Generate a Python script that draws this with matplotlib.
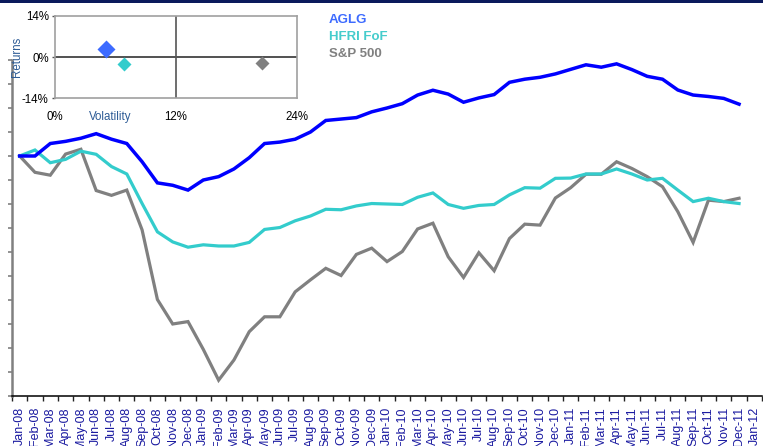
import matplotlib
matplotlib.use("Agg")
import matplotlib.pyplot as plt
from matplotlib.patches import Rectangle
from matplotlib.ticker import FixedLocator, NullFormatter

plt.rcParams['font.family'] = ['Liberation Sans', 'DejaVu Sans']

# Month labels, Jan-08 .. Jan-12
months = ['Jan', 'Feb', 'Mar', 'Apr', 'May', 'Jun', 'Jul', 'Aug', 'Sep', 'Oct', 'Nov', 'Dec']
month_labels = [f"{m}-{y:02d}" for y in range(8, 12) for m in months] + ['Jan-12']

# Growth of 100 invested at Jan-08 (monthly, through Dec-11)
aglg = [100.0, 100.0, 102.6, 103.05, 103.7, 104.65, 103.5, 102.6, 98.8, 94.4, 93.9, 92.9,
        95.0, 95.7, 97.3, 99.65, 102.6, 102.9, 103.5, 105.0, 107.4, 107.7, 108.0, 109.2,
        110.0, 110.9, 112.7, 113.7, 112.9, 111.2, 112.1, 112.8, 115.35, 116.0, 116.4, 117.1,
        118.05, 119.0, 118.5, 119.2, 118.0, 116.6, 116.0, 113.75, 112.7, 112.4, 112.0, 110.8]
hfri = [100.0, 101.25, 98.6, 99.3, 101.0, 100.35, 97.8, 96.25, 90.1, 84.2, 82.1, 81.0,
        81.5, 81.25, 81.25, 82.0, 84.7, 85.1, 86.5, 87.5, 88.9, 88.8, 89.6, 90.1,
        90.0, 89.9, 91.4, 92.3, 89.9, 89.1, 89.7, 89.9, 91.9, 93.4, 93.3, 95.35,
        95.4, 96.25, 96.25, 97.3, 96.25, 95.0, 95.35, 92.9, 90.5, 91.2, 90.5, 90.1]
sp500 = [100.0, 96.6, 96.0, 100.4, 101.4, 92.8, 91.8, 92.9, 84.6, 70.1, 65.0, 65.5,
         59.7, 53.3, 57.5, 63.4, 66.5, 66.5, 71.7, 74.2, 76.6, 75.1, 79.5, 80.8,
         78.0, 80.1, 84.8, 86.0, 79.0, 74.7, 79.85, 76.1, 82.8, 85.8, 85.6, 91.25,
         93.4, 96.2, 96.2, 98.8, 97.4, 95.7, 93.6, 88.4, 82.0, 90.8, 90.5, 91.2]

# Risk / return summary (%)
names = ['AGLG', 'HFRI FoF', 'S&P 500']
volatility = [5.1, 6.9, 20.6]
returns = [2.7, -2.4, -2.0]

c_aglg_line = '#0000FF'
c_aglg = '#3D6BFF'
c_hfri = '#33CCCC'
c_sp = '#808080'

W, H = 763, 446
fig = plt.figure(figsize=(W / 100, H / 100), dpi=100)
fig.patch.set_facecolor('white')

# Thin navy band across the top
fig.patches.append(Rectangle((0, 1 - 3 / H), 1, 3 / H, transform=fig.transFigure,
                             facecolor='#0B1A5C', edgecolor='none', zorder=0))

# ---- main chart ----
ax = fig.add_axes([12 / W, 1 - 396 / H, 750 / W, 336 / H])
x = list(range(len(aglg)))
ax.plot(x, sp500, color=c_sp, lw=2.3, solid_joinstyle='miter', zorder=2)
ax.plot(x, hfri, color=c_hfri, lw=2.3, solid_joinstyle='miter', zorder=3)
ax.plot(x, aglg, color=c_aglg_line, lw=2.5, solid_joinstyle='miter', zorder=4)

ax.set_xlim(-0.5, len(month_labels) - 0.5)
ax.set_ylim(50, 120)
ax.set_yticks([50 + 5 * k for k in range(15)])
ax.set_yticklabels([])
ax.tick_params(axis='y', direction='out', length=3, width=1.2, color='#808080')

ax.set_xticks(range(len(month_labels)))
ax.set_xticklabels(month_labels, rotation=90, fontsize=9, color='#1A1AA0', va='top')
ax.tick_params(axis='x', which='major', length=0, pad=8)
ax.xaxis.set_minor_locator(FixedLocator([k - 0.5 for k in range(len(month_labels) + 1)]))
ax.xaxis.set_minor_formatter(NullFormatter())
ax.tick_params(axis='x', which='minor', direction='out', length=3.5, width=1, color='#222222')

for s in ['top', 'right']:
    ax.spines[s].set_visible(False)
ax.spines['left'].set_color('#808080')
ax.spines['left'].set_linewidth(1.8)
ax.spines['bottom'].set_color('#000000')
ax.spines['bottom'].set_linewidth(1.1)

# ---- risk / return inset ----
ins = fig.add_axes([55 / W, 1 - 98.3 / H, 241.7 / W, 82.6 / H])
ins.set_xlim(0, 24)
ins.set_ylim(-14, 14)
ins.axhline(0, color='#333333', lw=1.2, zorder=1)
ins.axvline(12, color='#555555', lw=1.2, zorder=1)
ins.plot(volatility[0], returns[0], 'D', ms=9.2, color=c_aglg, mec='none', zorder=3)
ins.plot(volatility[1], returns[1], 'D', ms=7.1, color=c_hfri, mec='none', zorder=3)
ins.plot(volatility[2], returns[2], 'D', ms=7.5, color=c_sp, mec='none', zorder=3)
ins.set_xticks([0, 12, 24])
ins.set_xticklabels(['0%', '12%', '24%'], fontsize=8.3)
ins.set_yticks([-14, 0, 14])
ins.set_yticklabels(['-14%', '0%', '14%'], fontsize=8.3)
ins.tick_params(axis='x', length=0, pad=9.5)
ins.tick_params(axis='y', direction='out', length=2.5, width=1, color='#555555', pad=2)
for s in ins.spines.values():
    s.set_color('#A0A0A0')
    s.set_linewidth(1.2)
ins.text(110.7 / W, 1 - 117.3 / H, 'Volatility', transform=fig.transFigure,
         ha='center', va='center', fontsize=8.3, color='#2E5C96')
ins.text(16.7 / W, 1 - 56.7 / H, 'Returns', transform=fig.transFigure, rotation=90,
         ha='center', va='center', fontsize=8.3, color='#2E5C96')

# ---- legend text ----
for name, col, yc in zip(names, [c_aglg, '#45CCCC', c_sp], [20, 36.7, 54.3]):
    fig.text(329 / W, 1 - yc / H, name, ha='left', va='center', fontsize=9.5,
             fontweight='bold', color=col)

fig.savefig('out.png', dpi=100, facecolor='white')
